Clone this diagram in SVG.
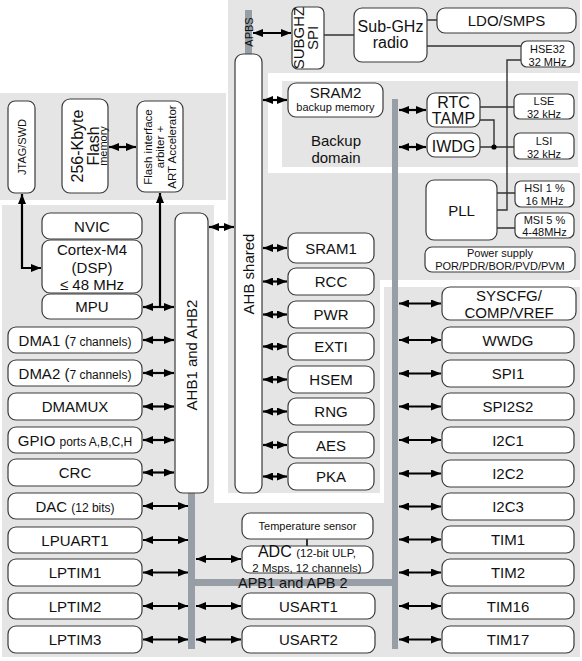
<svg xmlns="http://www.w3.org/2000/svg" width="582" height="661" viewBox="0 0 582 661">
<style>
.bg{fill:#e5e5e5}
.bus{fill:#979ea5}
.b{fill:#fff;stroke:#3a3a3a;stroke-width:1.2}
text{font-family:"Liberation Sans",Arial,sans-serif;fill:#111;text-anchor:middle}
.t{font-size:15px}
.m{font-size:16px}
.s{font-size:11px}
.ar{stroke:#000;stroke-width:2.2;fill:none;marker-start:url(#ah);marker-end:url(#ah)}
.ln{stroke:#333;stroke-width:1.3;fill:none}
</style>
<defs>
<marker id="ah" viewBox="0 0 10 8" refX="10" refY="4" markerWidth="10" markerHeight="8" markerUnits="userSpaceOnUse" orient="auto-start-reverse"><path d="M0,0 L10,4 L0,8 z" fill="#000"/></marker>
<marker id="ah1" viewBox="0 0 10 8" refX="10" refY="4" markerWidth="10" markerHeight="8" markerUnits="userSpaceOnUse" orient="auto"><path d="M0,0 L10,4 L0,8 z" fill="#000"/></marker>
</defs>
<rect width="582" height="661" fill="#fff"/>
<g id="background">
<path class="bg" d="M228,0 H580 V73 H268 V173 H580 V280 H380 V493 H228 Z"/>
<rect class="bg" x="282" y="81" width="296" height="86"/>
<rect class="bg" x="0" y="93" width="226" height="107"/>
<path class="bg" d="M2,205 H214 V503 H384 V287 H580 V657 H2 Z"/>
</g>
<g id="buses">
<rect class="bus" x="245" y="10" width="7" height="44"/>
<text class="s" transform="translate(248.5,32) rotate(-90)" y="4">APBS</text>
<rect class="bus" x="392" y="99" width="6" height="550"/>
<rect class="bus" x="188" y="492" width="7" height="157"/>
<rect class="bus" x="188" y="579" width="210" height="7"/>
<text class="t" x="238" y="588" style="text-anchor:start;font-size:14.5px">APB1 and APB 2</text>
</g>
<g id="connectors">
<path class="ar" d="M253,33 H291"/>
<path class="ln" d="M324,35 H354 M427,20 H437 M427,46 H521 M521,60 H507 V210 H497 M497,193 H515 M497,228 H515 M480,107 H514 M480,120 H494 V147 M480,147 H514" style="stroke-width:1.4"/>
<circle cx="494" cy="147" r="2.6" fill="#000"/>
<path class="ar" d="M263,100 H287"/>
<path class="ar" d="M399,110 H426"/>
<path class="ar" d="M399,147 H426"/>
<path class="ar" d="M209,227 H234"/>
<path class="ar" d="M109,147 H136"/>
<path class="ar" d="M22,194 V268 H41"/>
<path d="M160,193 V307" stroke="#000" stroke-width="2.2" fill="none" marker-start="url(#ah)"/>
<path class="ar" d="M143,307 H174"/>
<path class="ar" d="M143,340 H174"/>
<path class="ar" d="M143,373 H174"/>
<path class="ar" d="M143,406.5 H174"/>
<path class="ar" d="M143,440 H174"/>
<path class="ar" d="M143,472.5 H174"/>
<path class="ar" d="M143,506 H188"/>
<path class="ar" d="M143,540 H188"/>
<path class="ar" d="M143,572.5 H188"/>
<path class="ar" d="M143,606 H188"/>
<path class="ar" d="M143,639.5 H188"/>
<path class="ar" d="M196,559 H241"/>
<path class="ar" d="M196,606 H241"/>
<path class="ar" d="M196,639.5 H241"/>
<path d="M307,539 V546" stroke="#333" stroke-width="2"/>
<path class="ar" d="M263,248 H287"/>
<path class="ar" d="M263,281.5 H287"/>
<path class="ar" d="M263,314.5 H287"/>
<path class="ar" d="M263,346.5 H287"/>
<path class="ar" d="M263,379.5 H287"/>
<path class="ar" d="M263,411.5 H287"/>
<path class="ar" d="M263,445 H287"/>
<path class="ar" d="M263,476.5 H287"/>
<path class="ar" d="M399,303.5 H441"/>
<path class="ar" d="M399,340 H441"/>
<path class="ar" d="M399,373.5 H441"/>
<path class="ar" d="M399,406.5 H441"/>
<path class="ar" d="M399,440 H441"/>
<path class="ar" d="M399,473.5 H441"/>
<path class="ar" d="M399,506.5 H441"/>
<path class="ar" d="M399,539.5 H441"/>
<path class="ar" d="M399,572.5 H441"/>
<path class="ar" d="M399,606 H441"/>
<path class="ar" d="M399,639.5 H441"/>
</g>
<g id="subghzspi"><rect class="b" x="292" y="7" width="32" height="62" rx="6"/><text class="t" transform="translate(308,38) rotate(-90)"><tspan x="0" y="-4.5">SUBGHZ</tspan><tspan x="0" y="10">SPI</tspan></text></g>
<g id="radio"><rect class="b" x="354" y="8" width="73" height="54" rx="8"/><text class="m" x="390.5" y="32">Sub-GHz</text><text class="m" x="390.5" y="48">radio</text></g>
<g id="ldo"><rect class="b" x="437" y="8" width="139" height="25" rx="8"/><text class="t" x="506.5" y="26">LDO/SMPS</text></g>
<g id="hse32"><rect class="b" x="521" y="41" width="53" height="26" rx="6"/><text class="s" x="547.5" y="53">HSE32</text><text class="s" x="547.5" y="65.5">32 MHz</text></g>
<g id="ahbshared"><rect class="b" x="235" y="54" width="27" height="439" rx="8"/><text class="t" transform="translate(248.5,274) rotate(-90)" y="5">AHB shared</text></g>
<g id="sram2"><rect class="b" x="288" y="83" width="95" height="34" rx="8"/><text class="t" x="335.5" y="98">SRAM2</text><text class="s" x="335.5" y="111">backup memory</text></g>
<g id="backupdomain"><text class="t" x="336" y="146">Backup</text><text class="t" x="336" y="163">domain</text></g>
<g id="rtc"><rect class="b" x="427" y="93" width="53" height="34" rx="8"/><text class="m" x="453.5" y="107.5">RTC</text><text class="m" x="453.5" y="124">TAMP</text></g>
<g id="iwdg"><rect class="b" x="427" y="133" width="53" height="24" rx="8"/><text class="m" x="453.5" y="151.5">IWDG</text></g>
<g id="lse"><rect class="b" x="514" y="94" width="60" height="25" rx="6"/><text class="s" x="544" y="105">LSE</text><text class="s" x="544" y="118">32 kHz</text></g>
<g id="lsi"><rect class="b" x="514" y="133" width="60" height="26" rx="6"/><text class="s" x="544" y="144.5">LSI</text><text class="s" x="544" y="158">32 kHz</text></g>
<g id="pll"><rect class="b" x="426" y="180" width="71" height="60" rx="8"/><text class="t" x="461.5" y="215.5">PLL</text></g>
<g id="hsi"><rect class="b" x="515" y="181" width="59" height="26" rx="6"/><text class="s" x="544.5" y="192">HSI 1 %</text><text class="s" x="544.5" y="204.5">16 MHz</text></g>
<g id="msi"><rect class="b" x="515" y="213" width="59" height="25" rx="6"/><text class="s" x="544.5" y="223.5">MSI 5 %</text><text class="s" x="544.5" y="235.5">4-48MHz</text></g>
<g id="power"><rect class="b" x="425" y="247" width="150" height="25" rx="7"/><text class="s" x="500" y="257">Power supply</text><text class="s" x="500" y="270">POR/PDR/BOR/PVD/PVM</text></g>
<g id="jtag"><rect class="b" x="8" y="101" width="27" height="92" rx="7"/><text class="s" transform="translate(21.5,147) rotate(-90)" y="4">JTAG/SWD</text></g>
<g id="flash"><rect class="b" x="62" y="99" width="46" height="94" rx="8"/><text transform="translate(85,146) rotate(-90)"><tspan class="m" x="0" y="-2">256-Kbyte</tspan><tspan class="m" x="0" y="14">Flash</tspan><tspan class="s" x="0" y="21.5">memory</tspan></text></g>
<g id="flashif"><rect class="b" x="137" y="101" width="46" height="91" rx="8"/><text class="s" transform="translate(160,147) rotate(-90)" style="font-size:11.5px"><tspan x="0" y="-8">Flash interface</tspan><tspan x="0" y="4">arbiter +</tspan><tspan x="0" y="16">ART Accelerator</tspan></text></g>
<g id="nvic"><rect class="b" x="42" y="213" width="100" height="26" rx="8"/><text class="t" x="92" y="232">NVIC</text></g>
<g id="cortex"><rect class="b" x="42" y="240" width="100" height="53" rx="8"/><text class="t" x="92" y="255">Cortex-M4</text><text class="t" x="92" y="272.5">(DSP)</text><text class="t" x="92" y="290">≤ 48 MHz</text></g>
<g id="mpu"><rect class="b" x="42" y="294" width="100" height="25" rx="8"/><text class="t" x="92" y="312">MPU</text></g>
<g id="ahb12"><rect class="b" x="175" y="213" width="33" height="280" rx="8"/><text class="t" transform="translate(191.5,355) rotate(-90)" y="5.5">AHB1 and AHB2</text></g>
<g id="dma1"><rect class="b" x="8" y="327" width="134" height="26" rx="8"/><text class="t" x="75" y="345.5">DMA1 (<tspan class="s" style="font-size:12px">7 channels)</tspan></text></g>
<g id="dma2"><rect class="b" x="8" y="360" width="134" height="26" rx="8"/><text class="t" x="75" y="378.5">DMA2 (<tspan class="s" style="font-size:12px">7 channels)</tspan></text></g>
<g id="dmamux"><rect class="b" x="8" y="393" width="134" height="27" rx="8"/><text class="t" x="75" y="412">DMAMUX</text></g>
<g id="gpio"><rect class="b" x="8" y="427" width="134" height="26" rx="8"/><text class="t" x="75" y="445.5">GPIO <tspan class="s" style="font-size:12px">ports A,B,C,H</tspan></text></g>
<g id="crc"><rect class="b" x="8" y="459" width="134" height="27" rx="8"/><text class="t" x="75" y="478">CRC</text></g>
<g id="dac"><rect class="b" x="8" y="493" width="134" height="26" rx="8"/><text class="t" x="75" y="511.5">DAC <tspan class="s" style="font-size:12px">(12 bits)</tspan></text></g>
<g id="lpuart1"><rect class="b" x="8" y="527" width="134" height="26" rx="8"/><text class="t" x="75" y="545.5">LPUART1</text></g>
<g id="lptim1"><rect class="b" x="8" y="559" width="134" height="27" rx="8"/><text class="t" x="75" y="578">LPTIM1</text></g>
<g id="lptim2"><rect class="b" x="8" y="593" width="134" height="26" rx="8"/><text class="t" x="75" y="611.5">LPTIM2</text></g>
<g id="lptim3"><rect class="b" x="8" y="626" width="134" height="27" rx="8"/><text class="t" x="75" y="645">LPTIM3</text></g>
<g id="sram1"><rect class="b" x="288" y="233" width="86" height="30" rx="8"/><text class="t" x="331" y="253.5">SRAM1</text></g>
<g id="rcc"><rect class="b" x="288" y="268" width="86" height="27" rx="8"/><text class="t" x="331" y="287">RCC</text></g>
<g id="pwr"><rect class="b" x="288" y="301" width="86" height="27" rx="8"/><text class="t" x="331" y="320">PWR</text></g>
<g id="exti"><rect class="b" x="288" y="333" width="86" height="27" rx="8"/><text class="t" x="331" y="352">EXTI</text></g>
<g id="hsem"><rect class="b" x="288" y="366" width="86" height="27" rx="8"/><text class="t" x="331" y="385">HSEM</text></g>
<g id="rng"><rect class="b" x="288" y="398" width="86" height="27" rx="8"/><text class="t" x="331" y="417">RNG</text></g>
<g id="aes"><rect class="b" x="288" y="432" width="86" height="26" rx="8"/><text class="t" x="331" y="450.5">AES</text></g>
<g id="pka"><rect class="b" x="288" y="463" width="86" height="27" rx="8"/><text class="t" x="331" y="482">PKA</text></g>
<g id="syscfg"><rect class="b" x="442" y="287" width="134" height="33" rx="8"/><text class="t" x="509" y="301">SYSCFG/</text><text class="t" x="509" y="318">COMP/VREF</text></g>
<g id="wwdg"><rect class="b" x="442" y="327" width="132" height="26" rx="8"/><text class="t" x="508" y="345.5">WWDG</text></g>
<g id="spi1"><rect class="b" x="442" y="360" width="132" height="27" rx="8"/><text class="t" x="508" y="379">SPI1</text></g>
<g id="spi2s2"><rect class="b" x="442" y="393" width="132" height="27" rx="8"/><text class="t" x="508" y="412">SPI2S2</text></g>
<g id="i2c1"><rect class="b" x="442" y="427" width="132" height="26" rx="8"/><text class="t" x="508" y="445.5">I2C1</text></g>
<g id="i2c2"><rect class="b" x="442" y="460" width="132" height="27" rx="8"/><text class="t" x="508" y="479">I2C2</text></g>
<g id="i2c3"><rect class="b" x="442" y="493" width="132" height="27" rx="8"/><text class="t" x="508" y="512">I2C3</text></g>
<g id="tim1"><rect class="b" x="442" y="526" width="132" height="27" rx="8"/><text class="t" x="508" y="545">TIM1</text></g>
<g id="tim2"><rect class="b" x="442" y="559" width="132" height="27" rx="8"/><text class="t" x="508" y="578">TIM2</text></g>
<g id="tim16"><rect class="b" x="442" y="593" width="132" height="26" rx="8"/><text class="t" x="508" y="611.5">TIM16</text></g>
<g id="tim17"><rect class="b" x="442" y="626" width="132" height="27" rx="8"/><text class="t" x="508" y="645">TIM17</text></g>
<g id="tempsensor"><rect class="b" x="242" y="513" width="131" height="26" rx="8"/><text class="s" x="307.5" y="530">Temperature sensor</text></g>
<g id="adc"><rect class="b" x="242" y="546" width="131" height="27" rx="8"/><text class="m" x="307" y="557">ADC <tspan class="s" style="font-size:11.5px">(12-bit ULP,</tspan></text><text class="s" x="307" y="572" style="font-size:11.5px">2 Msps, 12 channels)</text></g>
<g id="usart1"><rect class="b" x="242" y="593" width="133" height="26" rx="8"/><text class="t" x="308.5" y="611.5">USART1</text></g>
<g id="usart2"><rect class="b" x="242" y="626" width="133" height="27" rx="8"/><text class="t" x="308.5" y="645">USART2</text></g>
</svg>
